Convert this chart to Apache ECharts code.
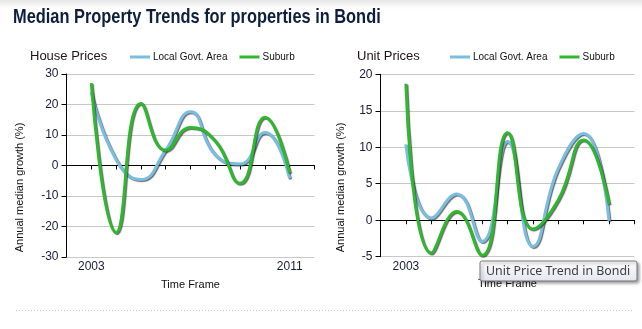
<!DOCTYPE html>
<html>
<head>
<meta charset="utf-8">
<script src="https://cdn.jsdelivr.net/npm/echarts@6/dist/echarts.min.js"></script>
<style>
html,body{margin:0;padding:0;background:#fff;}
#c{width:642px;height:329px;}
</style>
</head>
<body>
<div id="c"></div>
<script>
// ---- data ----
const years = [2003, 2004, 2005, 2006, 2007, 2008, 2009, 2010, 2011];
const houseLga = [24, 2, -4.6, 5, 17.6, 3.5, 0.5, 10.8, -4.2];
const houseSuburb = [27, -22, 20.3, 5, 12.5, 8, -5.8, 15.8, -2.4];
const unitLga = [10.4, 0.3, 3.6, -2.9, 10.8, -3.6, 7.1, 11.9, -0.1];
const unitSuburb = [18.7, -4.5, 1.2, -4.8, 12.0, -1.2, 2.8, 11.0, 2.2];
const xLabelYears = [2003, 2011];
const xRange = [2002, 2012];
const houseYTicks = [-30, -20, -10, 0, 10, 20, 30];
const unitYTicks = [-5, 0, 5, 10, 15, 20];
const seriesNames = ['Local Govt. Area', 'Suburb'];
const chartTitles = ['House Prices', 'Unit Prices'];
const mainTitle = 'Median Property Trends for properties in Bondi';
const yAxisName = 'Annual median growth (%)';
const xAxisName = 'Time Frame';
const tooltipText = 'Unit Price Trend in Bondi';

const FONT = '"Liberation Sans", Arial, sans-serif';
const BLUE = '#79BDE0';
const GREEN = '#2EB82E';

function pairs(vals) { return years.map((y, i) => [y, vals[i]]); }

function xAxis(gi) {
  return {
    type: 'value', gridIndex: gi, min: xRange[0], max: xRange[1], interval: 1,
    name: xAxisName, nameLocation: 'middle', nameGap: 22,
    nameTextStyle: {fontFamily: FONT, fontSize: 11, color: '#111'},
    axisLine: {show: true, lineStyle: {color: '#000', width: 1}},
    axisTick: {show: true, length: 4, lineStyle: {color: '#000'}},
    axisLabel: {
      fontFamily: FONT, fontSize: 12, color: '#1a1a3a', margin: 4,
      formatter: v => xLabelYears.indexOf(v) >= 0 ? String(v) : ''
    },
    splitLine: {show: false}
  };
}
function yAxis(gi, ticks, nameGap) {
  return {
    type: 'value', gridIndex: gi,
    min: ticks[0], max: ticks[ticks.length - 1], interval: ticks[1] - ticks[0],
    name: yAxisName, nameLocation: 'middle', nameGap: nameGap,
    nameTextStyle: {fontFamily: FONT, fontSize: 11, color: '#111', padding: [0, 44, 0, 0]},
    axisLine: {show: true, lineStyle: {color: '#000', width: 1}},
    axisTick: {show: true, length: 5, lineStyle: {color: '#000'}},
    axisLabel: {fontFamily: FONT, fontSize: 12, color: '#1a1a3a', margin: 8},
    splitLine: {show: true, lineStyle: {color: '#c8c8c8', width: 1}}
  };
}
function line(name, color, gi, vals) {
  return {
    type: 'line', name: name, xAxisIndex: gi, yAxisIndex: gi,
    data: pairs(vals), smooth: 0.5, symbol: 'none', showSymbol: false,
    lineStyle: {color: color, width: 3, shadowColor: 'rgba(40,40,40,0.7)', shadowBlur: 1, shadowOffsetX: 1, shadowOffsetY: 1},
    itemStyle: {color: color}, z: name === seriesNames[1] ? 3 : 2,
    animation: false
  };
}
function legend(left) {
  return {
    left: left, top: 52, padding: 0, itemGap: 12, itemWidth: 20, itemHeight: 3,
    icon: 'rect', data: seriesNames,
    textStyle: {fontFamily: FONT, fontSize: 10, color: '#111', padding: [0, 0, 0, -2]},
    selectedMode: false
  };
}

const chart = echarts.init(document.getElementById('c'), null, {renderer: 'canvas'});
chart.setOption({
  animation: false,
  backgroundColor: '#fff',
  title: [
    {text: chartTitles[0], left: 30, top: 50, padding: 0, textStyle: {fontFamily: FONT, fontSize: 13, fontWeight: 'normal', color: '#1e1414'}},
    {text: chartTitles[1], left: 357, top: 50, padding: 0, textStyle: {fontFamily: FONT, fontSize: 13, fontWeight: 'normal', color: '#1e1414'}}
  ],
  legend: [legend(130), legend(450)],
  grid: [
    {left: 66.5, top: 74, width: 248, height: 183, show: false},
    {left: 380.5, top: 74.3, width: 254, height: 182.4, show: false}
  ],
  xAxis: [xAxis(0), xAxis(1)],
  yAxis: [yAxis(0, houseYTicks, 41), yAxis(1, unitYTicks, 34)],
  series: [
    line(seriesNames[0], BLUE, 0, houseLga),
    line(seriesNames[1], GREEN, 0, houseSuburb),
    line(seriesNames[0], BLUE, 1, unitLga),
    line(seriesNames[1], GREEN, 1, unitSuburb)
  ],
  graphic: [
    {type: 'rect', left: 0, top: 0, z: -10, silent: true,
     shape: {width: 642, height: 9},
     style: {fill: new echarts.graphic.LinearGradient(0, 0, 0, 1, [{offset: 0, color: '#e6e6e6'}, {offset: 1, color: '#ffffff'}])}},
    {type: 'text', x: 13, y: 17, scaleX: 0.78, silent: true,
     style: {text: mainTitle, font: 'bold 21px ' + FONT, fill: '#0d1f3c', verticalAlign: 'middle', align: 'left'}},
    {type: 'line', silent: true,
     shape: {x1: 16, y1: 310.5, x2: 634, y2: 310.5},
     style: {stroke: '#cfcfcf', lineWidth: 1, lineDash: [1, 2]}},
    {type: 'rect', x: 480, y: 261, z: 200, zlevel: 1, silent: true,
     shape: {x: 0, y: 0, width: 157, height: 20, r: 2},
     style: {fill: new echarts.graphic.LinearGradient(0, 0, 0, 1, [{offset: 0, color: '#ffffff'}, {offset: 1, color: '#e4e5f0'}]),
             stroke: '#767676', lineWidth: 1, shadowColor: 'rgba(0,0,0,0.35)', shadowBlur: 3, shadowOffsetX: 2, shadowOffsetY: 2}},
    {type: 'text', x: 486, y: 271, z: 201, zlevel: 1, silent: true,
     style: {text: tooltipText, font: '12.4px "Noto Sans", "DejaVu Sans", sans-serif', fill: '#404040', verticalAlign: 'middle', align: 'left'}}
  ]
});
</script>
</body>
</html>
